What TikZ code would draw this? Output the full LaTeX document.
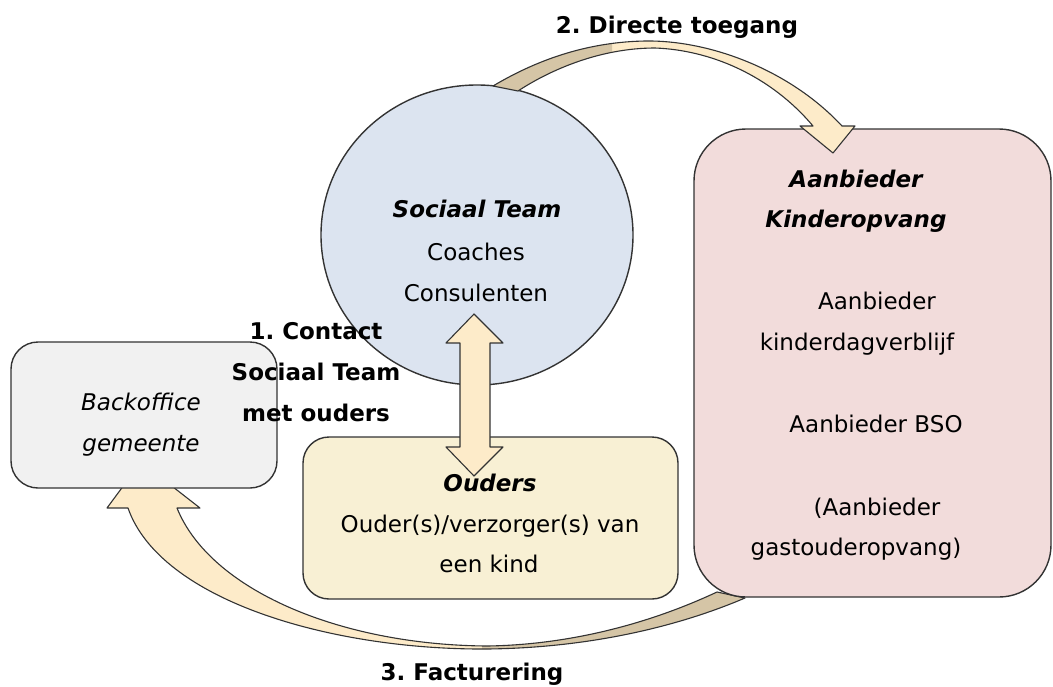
\documentclass[tikz,border=0pt]{standalone}
\usepackage{fontspec}
\setmainfont{DejaVu Sans}
\usetikzlibrary{shapes.geometric}
\frenchspacing
\definecolor{stblue}{HTML}{DCE4F0}
\definecolor{oudfill}{HTML}{F8F0D4}
\definecolor{aanfill}{HTML}{F2DCDB}
\definecolor{bofill}{HTML}{F1F1F1}
\definecolor{arrlight}{HTML}{FDEBC9}
\definecolor{arrdark}{HTML}{D5C5A6}
\definecolor{edge}{HTML}{333333}
\tikzset{
  box/.style={draw=edge, line width=1.4pt, inner sep=0pt},
  txt/.style={font=\fontsize{23}{28}\selectfont, anchor=base, inner sep=0pt, text=black},
  arrowline/.style={draw=edge, line width=1.1pt, line join=round},
}
\newcommand\TopArrowPath{(493,86) .. controls (540,58) and (590,42) .. (645,41) .. controls (710,40) and (790,70) .. (842,126) -- (855,126) -- (833,153) -- (800,126) -- (813,126) .. controls (770,75) and (710,50) .. (655,48) .. controls (600,48) and (550,70) .. (518,91) -- cycle}
\newcommand\BotArrowPath{(717,592) .. controls (640,628) and (560,645) .. (487,646) .. controls (340,645) and (210,590) .. (177,508) -- (200,508) -- (141,462) -- (107,508) -- (128,508) .. controls (160,600) and (330,650) .. (487,649) .. controls (580,648) and (670,630) .. (745,598) -- cycle}
\begin{document}
\begin{tikzpicture}[x=1pt,y=-1pt]
\useasboundingbox (0,0) rectangle (1053,686);
% bottom arrow (3. Facturering)
\fill[arrlight] \BotArrowPath;
\begin{scope}
  \clip (482,560) rectangle (760,680);
  \fill[arrdark] \BotArrowPath;
\end{scope}
\draw[arrowline] \BotArrowPath;
% boxes
\node[box, fill=bofill, rounded corners=27pt, minimum width=266pt, minimum height=146pt] (backoffice) at (144,415) {};
\node[box, fill=oudfill, rounded corners=26pt, minimum width=375pt, minimum height=162pt] (ouders) at (490.5,518) {};
\node[box, fill=aanfill, rounded corners=52pt, minimum width=357pt, minimum height=468pt] (aanbieder) at (872.5,363) {};
\node[box, fill=stblue, ellipse, minimum width=312pt, minimum height=300pt] (sociaal) at (477,235) {};
% top arrow (2. Directe toegang)
\fill[arrlight] \TopArrowPath;
\begin{scope}
  \clip (480,30) rectangle (612,100);
  \fill[arrdark] \TopArrowPath;
\end{scope}
\draw[arrowline] \TopArrowPath;
% double arrow (1. Contact)
\draw[arrowline, fill=arrlight] (474,314) -- (503,343) -- (490,343) -- (490,447) -- (503,447) -- (474,476) -- (446,447) -- (460,447) -- (460,343) -- (446,343) -- cycle;
% texts
\node[txt] (l2) at (677,33) {\bfseries 2. Directe toegang};
\node[txt] (st1) at (477,217) {\bfseries\itshape Sociaal Team};
\node[txt] (st2) at (476,260) {Coaches};
\node[txt] (st3) at (476,301) {Consulenten};
\node[txt] (l1a) at (316,339) {\bfseries 1. Contact};
\node[txt] (l1b) at (316,380) {\bfseries Sociaal Team};
\node[txt] (l1c) at (316,421) {\bfseries met ouders};
\node[txt] (bo1) at (141,410) {\itshape Backoffice};
\node[txt] (bo2) at (141,451) {\itshape gemeente};
\node[txt] (ou1) at (490,491) {\bfseries\itshape Ouders};
\node[txt] (ou2) at (490,532) {Ouder(s)/verzorger(s) van};
\node[txt] (ou3) at (489,572) {een kind};
\node[txt] (aa1) at (856,187) {\bfseries\itshape Aanbieder};
\node[txt] (aa2) at (856,227) {\bfseries\itshape Kinderopvang};
\node[txt] (aa3) at (877,309) {Aanbieder};
\node[txt] (aa4) at (857,350) {kinderdagverblijf};
\node[txt] (aa5) at (876,432) {Aanbieder BSO};
\node[txt] (aa6) at (877,515) {(Aanbieder};
\node[txt] (aa7) at (856,555) {gastouderopvang)};
\node[txt] (l3) at (472,680) {\bfseries 3. Facturering};
\end{tikzpicture}
\end{document}
